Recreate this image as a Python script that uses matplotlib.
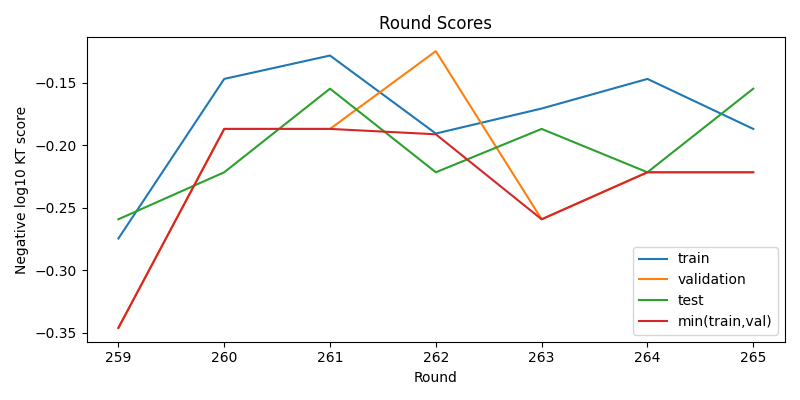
import matplotlib
matplotlib.use("Agg")
import matplotlib.pyplot as plt

rounds = [259, 260, 261, 262, 263, 264, 265]
train = [-0.2748, -0.1471, -0.1284, -0.1908, -0.1708, -0.1471, -0.1871]
validation = [-0.3463, -0.1871, -0.1871, -0.1249, -0.2594, -0.2218, -0.2218]
test = [-0.2594, -0.2218, -0.1549, -0.2218, -0.1871, -0.2218, -0.1549]
min_train_val = [-0.3463, -0.1871, -0.1871, -0.1914, -0.2594, -0.2218, -0.2218]

fig, ax = plt.subplots(figsize=(8, 4), dpi=100)
ax.plot(rounds, train, label="train")
ax.plot(rounds, validation, label="validation")
ax.plot(rounds, test, label="test")
ax.plot(rounds, min_train_val, label="min(train,val)")
ax.set_title("Round Scores")
ax.set_xlabel("Round")
ax.set_ylabel("Negative log10 KT score")
ax.legend(loc="lower right")
fig.tight_layout()
fig.savefig("out.png")
